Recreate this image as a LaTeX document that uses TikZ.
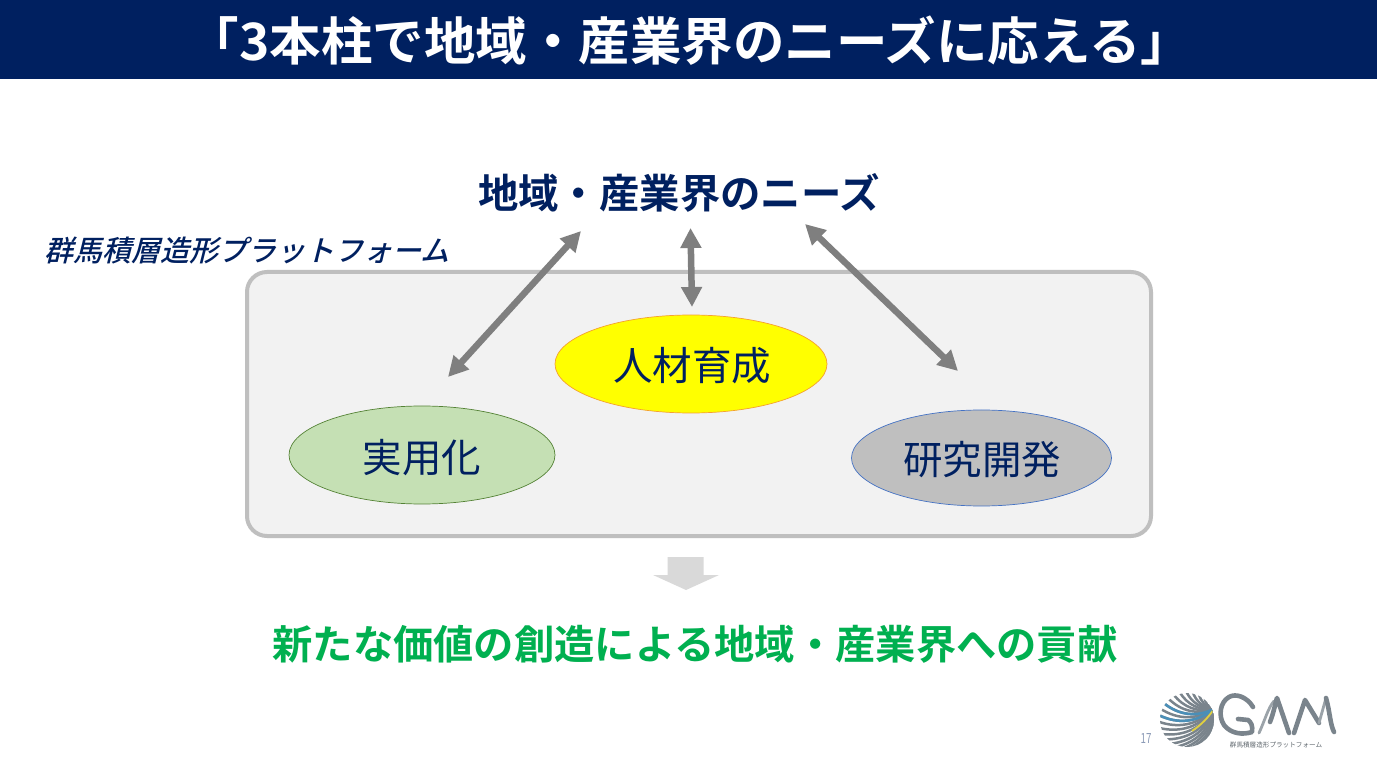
\documentclass[tikz,border=0pt]{standalone}
\usepackage{fontspec}
\usetikzlibrary{arrows.meta,shapes.geometric,calc}
\setmainfont{Noto Sans CJK JP}
\newfontfamily\boldjp{Noto Sans CJK JP Bold}
\newfontfamily\slantjp[FakeSlant=0.25]{Noto Sans CJK JP Medium}
\newfontfamily\plainjp{Noto Sans CJK JP}
\definecolor{navy}{HTML}{002060}
\definecolor{headline}{HTML}{00B050}
\definecolor{panelfill}{HTML}{F2F2F2}
\definecolor{panelline}{HTML}{BFBFBF}
\definecolor{linkgray}{HTML}{7F7F7F}
\definecolor{logogray}{HTML}{7A848C}
\definecolor{logoblue}{HTML}{4A8FB8}
\definecolor{logoyellow}{HTML}{E0D040}
\definecolor{purefill}{HTML}{FFFF00}
\definecolor{purelineO}{HTML}{F4A030}
\definecolor{greenfill}{HTML}{C5E0B4}
\definecolor{greenline}{HTML}{548235}
\definecolor{blueline}{HTML}{4472C4}
\definecolor{blockgray}{HTML}{D9D9D9}
\tikzset{
  oval/.style={ellipse,inner sep=0pt,line width=0.7pt,text=navy},
  ovaltext/.style={text=navy,inner sep=0pt,font=\plainjp\fontsize{39.5}{39.5}\selectfont},
  link/.style={draw=linkgray,line width=6.5pt,{Triangle[length=20pt,width=20pt]}-{Triangle[length=20pt,width=20pt]}},
  globeline/.style={line width=2.5pt,line cap=round},
  letter/.style={draw=logogray,line width=4.6pt,line cap=round,line join=round},
  letterthin/.style={draw=logogray!75!white,line width=2.8pt,line cap=round,line join=round}
}
\begin{document}
\begin{tikzpicture}[x=1pt,y=-1pt]
\useasboundingbox (0,0) rectangle (1377,775);
\fill[white] (0,0) rectangle (1377,775);
% title band
\fill[navy] (0,0) rectangle (1377,79);
\node[text=white,font=\boldjp\fontsize{51.5}{51.5}\selectfont,inner sep=0pt] (title) at (690,41) {「3本柱で地域・産業界のニーズに応える」};
% upper heading and platform caption
\node[text=navy,font=\boldjp\fontsize{40.4}{40.4}\selectfont,inner sep=0pt] (needs) at (679,193) {地域・産業界のニーズ};
\node[text=navy,font=\slantjp\fontsize{29}{29}\selectfont,inner sep=0pt] (platform) at (247,251) {群馬積層造形プラットフォーム};
% platform panel
\node[draw=panelline,fill=panelfill,line width=4pt,rounded corners=20pt,minimum width=904pt,minimum height=264pt,inner sep=0pt] (panel) at (699,404) {};
% three pillars
\node[oval,draw=purelineO,fill=purefill,minimum width=272pt,minimum height=98pt] (talent) at (691,364) {};
\node[ovaltext] at (692,366) {人材育成};
\node[oval,draw=greenline,fill=greenfill,minimum width=266pt,minimum height=98pt] (apply) at (422,455) {};
\node[ovaltext] at (422,458) {実用化};
\node[oval,draw=blueline,fill=panelline,minimum width=260pt,minimum height=96pt] (research) at (981.5,458) {};
\node[ovaltext] at (982,460) {研究開発};
% connector ends
\coordinate (needsL) at (581,231);
\coordinate (applyEnd) at (448,377);
\coordinate (needsM) at (690.5,228);
\coordinate (talentEnd) at (692,307);
\coordinate (needsR) at (805,224);
\coordinate (researchEnd) at (958,371);
\draw[link] (needsL) -- (applyEnd);
\draw[link] (needsM) -- (talentEnd);
\draw[link] (needsR) -- (researchEnd);
% downward block arrow
\fill[blockgray] (667.5,557) -- (703.5,557) -- (703.5,575) -- (719,575) -- (686,590) -- (653,575) -- (667.5,575) -- cycle;
% closing statement
\node[text=headline,font=\boldjp\fontsize{40.3}{40.3}\selectfont,inner sep=0pt] (result) at (695,644) {新たな価値の創造による地域・産業界への貢献};
% page number
\node[text=navy!45!white,font=\plainjp\fontsize{14}{14}\selectfont,inner sep=0pt,xscale=0.7] (page) at (1146,739) {17};
% logo: striped globe, stripes fanning out of one point on the rim
\coordinate (gc) at (1187,720);
\coordinate (gp) at (1214,709);
\coordinate (gy) at (1192,731);
\begin{scope}
\clip (gc) circle (27);
\foreach \a in {60,73,86,99,112,125,138,151,164,177,190,203,216,229,242,255,268,281,294,307}{
  \draw[globeline,logogray] (gp) to[bend left=32] ($(gc)+(\a:29)$);
}
\foreach \a in {190,216}{
  \draw[globeline,logoblue] (gp) to[bend left=32] ($(gc)+(\a:29)$);
}
\draw[line width=1.8pt,logoyellow] (gp) to[bend left=10] (gy);
\end{scope}
% logo: letters G, A, M
\draw[letter] (1253,707) .. controls (1247,697) and (1236,693) .. (1229,697) .. controls (1220,702) and (1218,716) .. (1224,725) .. controls (1231,734) and (1243,735) .. (1252,732) .. controls (1253,726) and (1251,722) .. (1248,720) -- (1238,719);
\draw[letterthin] (1259,733) .. controls (1265,720) and (1268,708) .. (1274,701);
\draw[letter] (1270,722) .. controls (1274,712) and (1276,700) .. (1277,698) -- (1289,733);
\draw[letter] (1294,733) -- (1305,700) -- (1319,723);
\draw[letterthin] (1319,723) -- (1326,698);
\draw[letter] (1326,698) .. controls (1330,712) and (1330,724) .. (1334,732);
\node[text=logogray!80!black,font=\plainjp\fontsize{6.6}{6.6}\selectfont,inner sep=0pt] (logotext) at (1276,745) {群馬積層造形プラットフォーム};
\end{tikzpicture}
\end{document}
